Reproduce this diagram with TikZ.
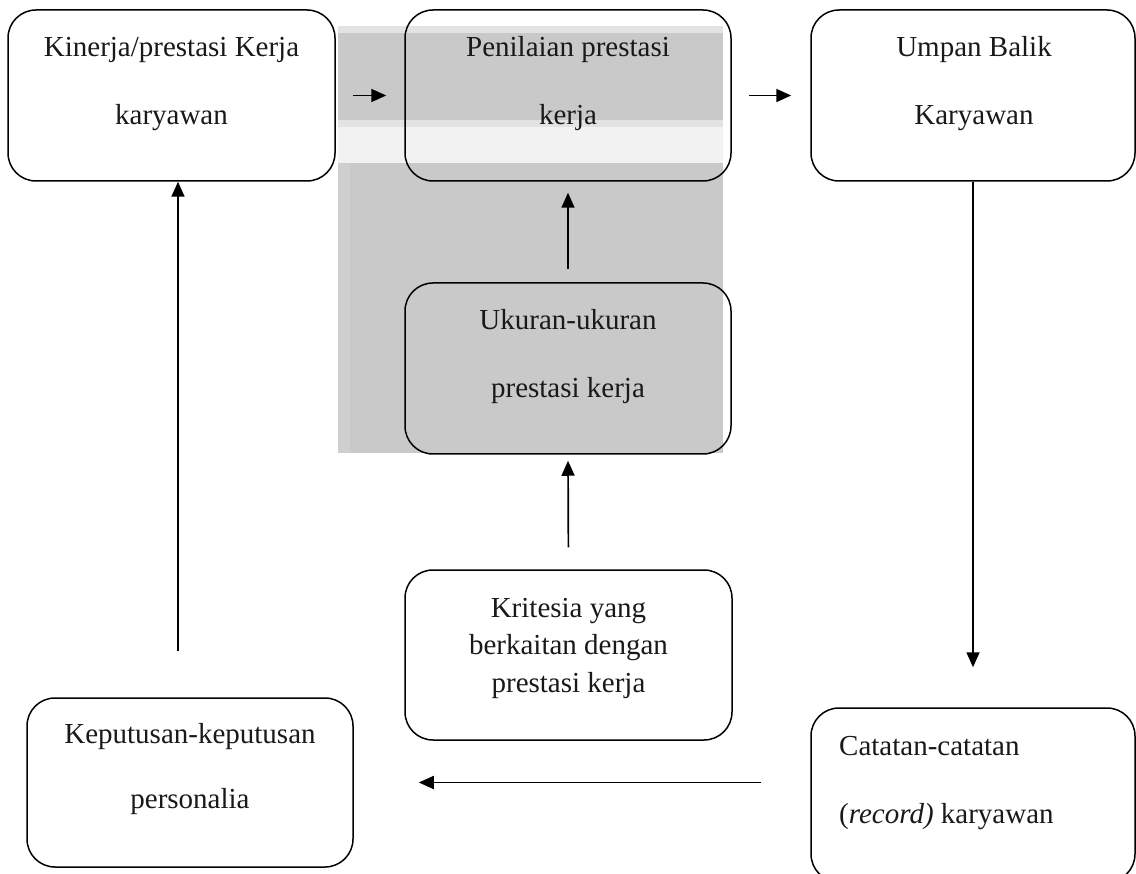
\documentclass[tikz,border=0pt]{standalone}
\usepackage{fontspec}
\setmainfont{Liberation Serif}
\usetikzlibrary{arrows.meta}
\begin{document}
\begin{tikzpicture}[x=1pt,y=-1pt,
  box/.style={draw=black, line width=1.5pt, rounded corners=28pt, minimum width=#1, inner sep=0pt},
  box/.default=326pt,
  lbl/.style={font=\fontsize{29}{34}\selectfont, text=black!90, inner sep=0pt, anchor=base},
  arr/.style={line width=1.7pt, -{Triangle[length=15pt,width=13pt]}}]
\useasboundingbox (0,0) rectangle (1136,874);
\clip (0,0) rectangle (1136,874);
% gray backdrop
\fill[black!11] (338,26) rectangle (723,127);
\fill[black!21] (338,33) rectangle (723,120);
\fill[black!5] (338,127) rectangle (723,163);
\fill[black!19] (338,163) rectangle (350,453);
\fill[black!21] (350,163) rectangle (723,453);
% boxes
\node[box=327pt, minimum height=171pt] (kin) at (171.5,95.5) {};
\node[box=326pt, minimum height=171pt] (pen) at (568,95.5) {};
\node[box=324pt, minimum height=171pt] (ump) at (973,95.5) {};
\node[box=326pt, minimum height=171pt] (uku) at (568,368.5) {};
\node[box=327pt, minimum height=170pt] (kri) at (568.5,655) {};
\node[box=326pt, minimum height=169pt] (kep) at (190,782.5) {};
\node[box=324pt, minimum height=174pt] (cat) at (973,795) {};
% texts
\node[lbl] (t1) at (171.5,57) {Kinerja/prestasi Kerja};
\node[lbl] (t2) at (171.5,125) {karyawan};
\node[lbl] (t3) at (568,57) {Penilaian prestasi};
\node[lbl] (t4) at (568,125) {kerja};
\node[lbl] (t5) at (974,57) {Umpan Balik};
\node[lbl] (t6) at (974,125) {Karyawan};
\node[lbl] (t7) at (568,330) {Ukuran-ukuran};
\node[lbl] (t8) at (568,398) {prestasi kerja};
\node[lbl] (t9) at (568.5,617) {Kritesia yang};
\node[lbl] (t10) at (568.5,654) {berkaitan dengan};
\node[lbl] (t11) at (568.5,692) {prestasi kerja};
\node[lbl] (t12) at (190,743) {Keputusan-keputusan};
\node[lbl] (t13) at (190,808) {personalia};
\node[lbl, anchor=base west] (t14) at (839,755) {Catatan-catatan};
\node[lbl, anchor=base west] (t15) at (839,823) {(\textit{record)} karyawan};
% connectors
\draw[arr, shorten <=17pt, shorten >=18pt] (kin.east) -- (pen.west);
\draw[arr, shorten <=17pt, shorten >=19pt] (pen.east) -- (ump.west);
\draw[arr, shorten <=13pt, shorten >=11pt] (uku.north) -- (pen.south);
\draw[arr, shorten <=22pt, shorten >=6pt] (kri.north) -- (uku.south);
\draw[arr, shorten >=40pt] (ump.south) -- (cat.north);
\draw[arr, shorten <=49pt, shorten >=65pt] (cat.west |- kep.east) -- (kep.east);
\draw[arr, shorten <=46pt] ([xshift=-12pt]kep.north) -- ([xshift=6.5pt]kin.south);
\end{tikzpicture}
\end{document}
